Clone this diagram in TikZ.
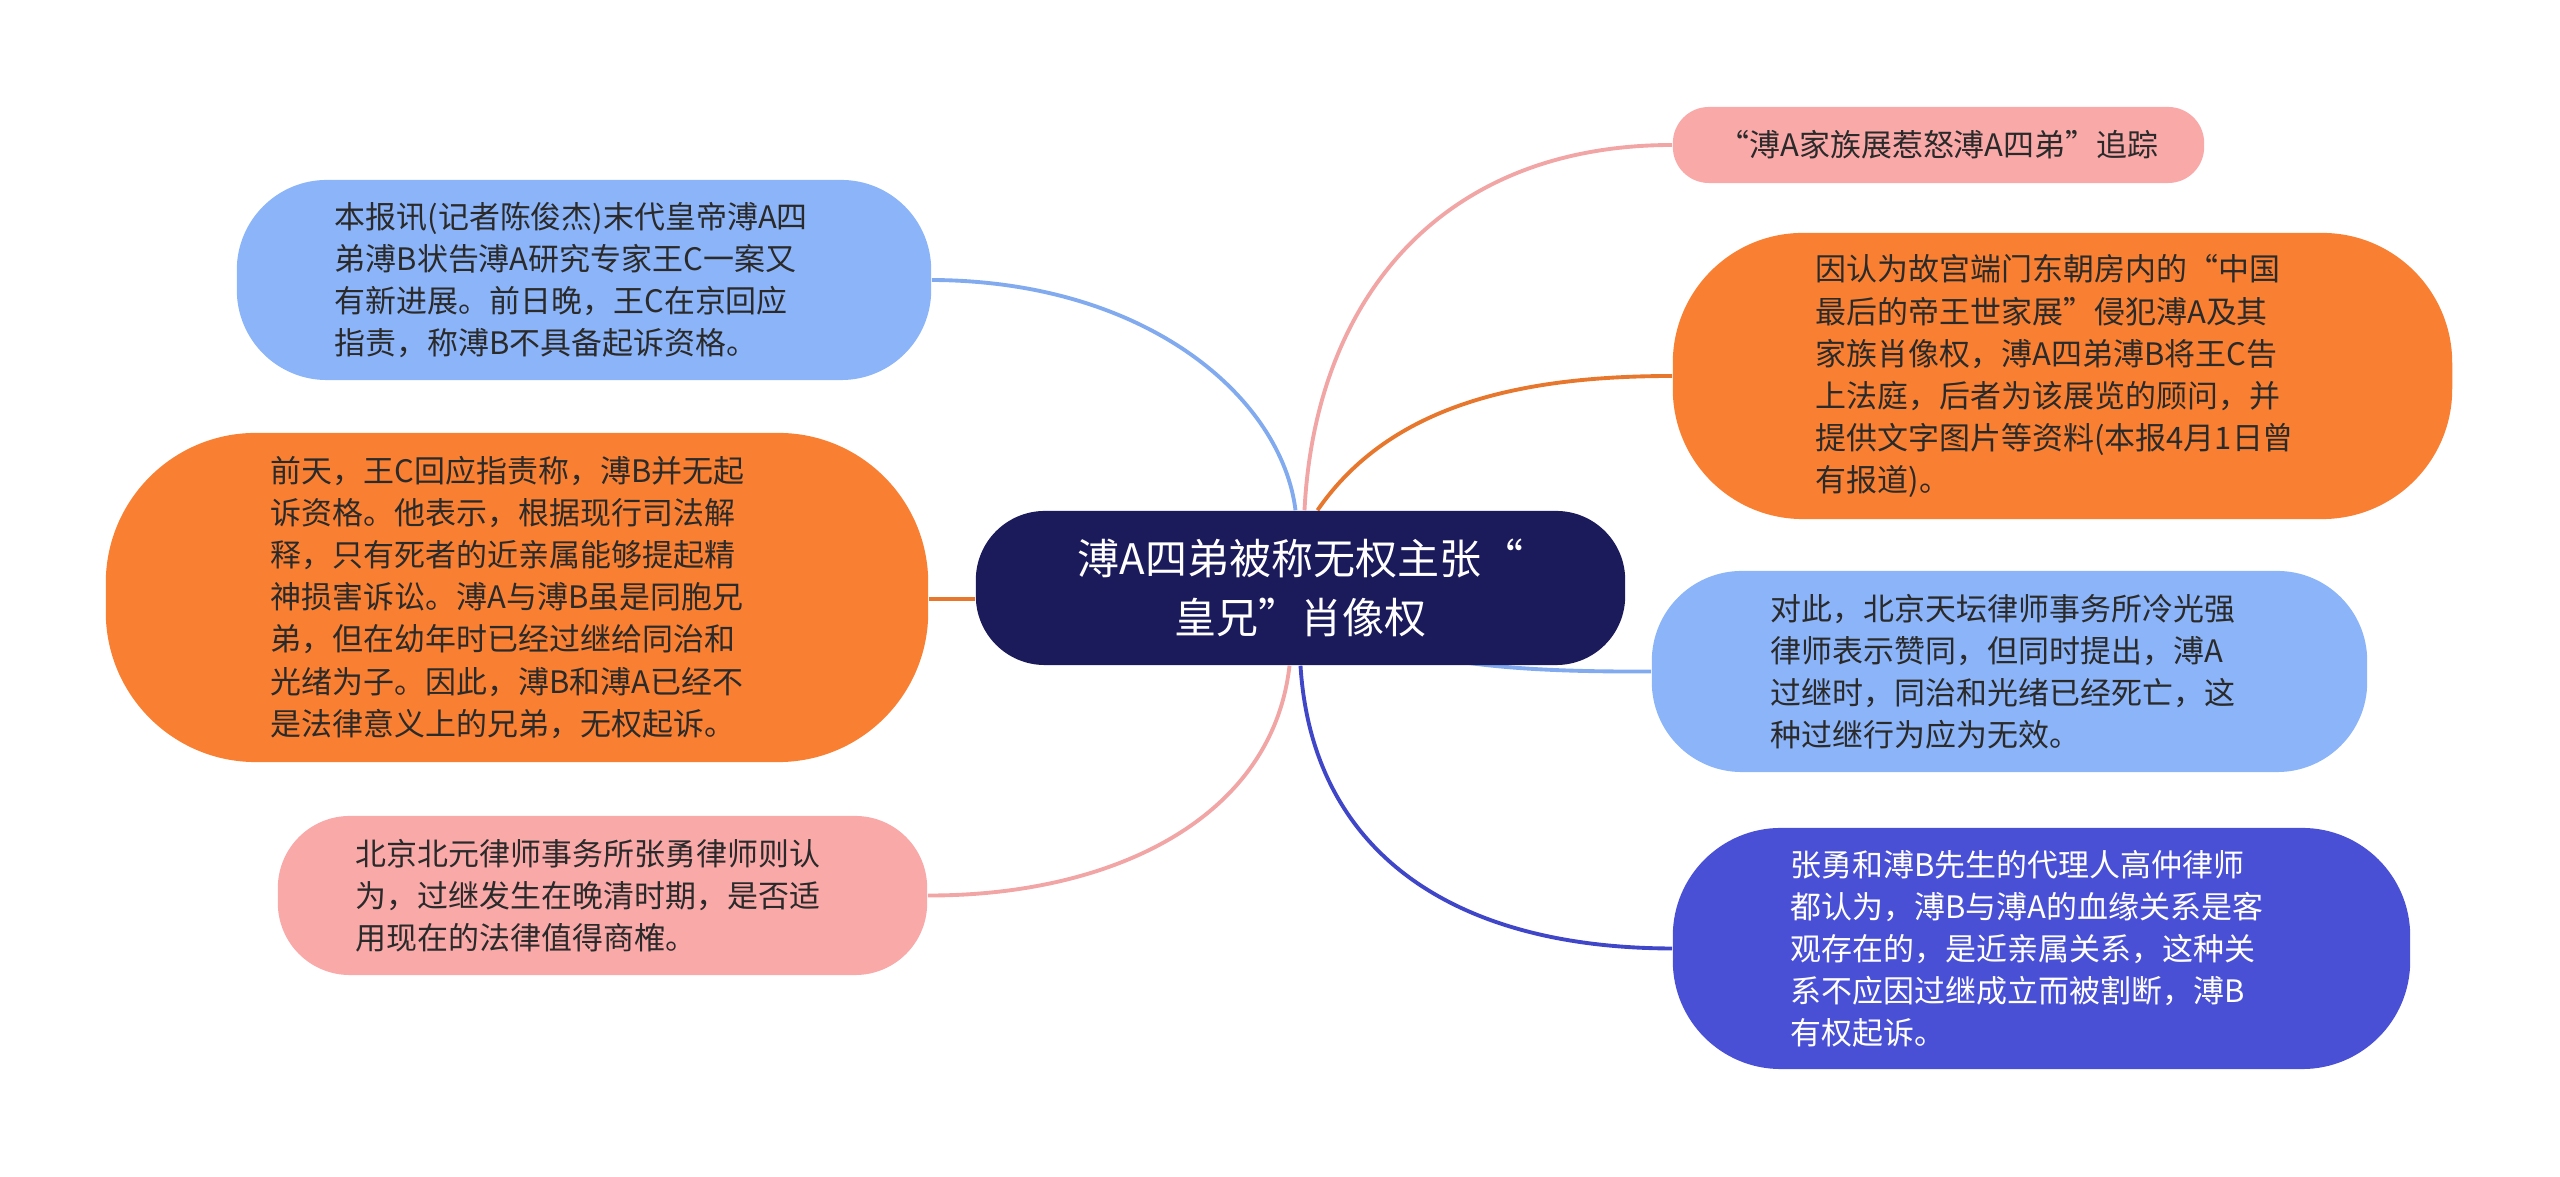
\documentclass[tikz,border=0pt]{standalone}
\usepackage{fontspec}
\setmainfont{Noto Sans CJK SC}
\usetikzlibrary{calc,backgrounds}
\definecolor{navy}{HTML}{1B1A5B}
\definecolor{lblue}{HTML}{8CB4F8}
\definecolor{orng}{HTML}{F98032}
\definecolor{pnk}{HTML}{FAA9A9}
\definecolor{indg}{HTML}{4A50D6}
\definecolor{txt}{HTML}{2A2A2A}
\definecolor{lorng}{HTML}{E8772E}
\definecolor{lpnk}{HTML}{F2A5A5}
\definecolor{lbl}{HTML}{82ABEF}
\definecolor{lind}{HTML}{4046C8}
\begin{document}
\begin{tikzpicture}[x=0.01cm,y=-0.01cm,
  box/.style={rectangle, align=left, inner ysep=0pt, text=txt,
    font=\fontsize{8.8pt}{11.95pt}\selectfont},
  link/.style={line width=1.1pt}]
\useasboundingbox (0,0) rectangle (2560,1177);

\node[rectangle, fill=navy, text=white, align=center, minimum width=6.49cm, minimum height=1.54cm,
  rounded corners=0.69cm, inner sep=0pt, font=\fontsize{11.95pt}{16.8pt}\selectfont]
  (ctr) at (1300.5,588) {溥A四弟被称无权主张“\\皇兄”肖像权};

\node[box, fill=lblue, text width=4.98cm, inner xsep=0.98cm, minimum height=2cm, rounded corners=0.9cm]
  (blueL) at (584,280) {本报讯(记者陈俊杰)末代皇帝溥A四\\弟溥B状告溥A研究专家王C一案又\\有新进展。前日晚，王C在京回应\\指责，称溥B不具备起诉资格。};

\node[box, fill=orng, text width=4.92cm, inner xsep=1.65cm, minimum height=3.29cm, rounded corners=1.5cm]
  (orangeL) at (517,597.5) {前天，王C回应指责称，溥B并无起\\诉资格。他表示，根据现行司法解\\释，只有死者的近亲属能够提起精\\神损害诉讼。溥A与溥B虽是同胞兄\\弟，但在幼年时已经过继给同治和\\光绪为子。因此，溥B和溥A已经不\\是法律意义上的兄弟，无权起诉。};

\node[box, fill=pnk, text width=4.93cm, inner xsep=0.78cm, minimum height=1.59cm, rounded corners=0.72cm]
  (pinkL) at (602.5,895.5) {北京北元律师事务所张勇律师则认\\为，过继发生在晚清时期，是否适\\用现在的法律值得商榷。};

\node[box, fill=pnk, align=center, minimum width=5.31cm, minimum height=0.76cm, inner xsep=0pt, rounded corners=0.36cm]
  (pinkR) at (1938.5,145) {“溥A家族展惹怒溥A四弟”追踪};

\node[box, fill=orng, text width=4.93cm, inner xsep=1.43cm, minimum height=2.86cm, rounded corners=1.3cm]
  (orangeR) at (2062.5,376) {因认为故宫端门东朝房内的“中国\\最后的帝王世家展”侵犯溥A及其\\家族肖像权，溥A四弟溥B将王C告\\上法庭，后者为该展览的顾问，并\\提供文字图片等资料(本报4月1日曾\\有报道)。};

\node[box, fill=lblue, text width=4.77cm, inner xsep=1.19cm, minimum height=2.01cm, rounded corners=0.9cm]
  (blueR) at (2009.5,671.5) {对此，北京天坛律师事务所冷光强\\律师表示赞同，但同时提出，溥A\\过继时，同治和光绪已经死亡，这\\种过继行为应为无效。};

\node[box, fill=indg, text=white, text width=5.01cm, inner xsep=1.18cm, minimum height=2.41cm, rounded corners=1.08cm]
  (indigoR) at (2041.5,948.5) {张勇和溥B先生的代理人高仲律师\\都认为，溥B与溥A的血缘关系是客\\观存在的，是近亲属关系，这种关\\系不应因过继成立而被割断，溥B\\有权起诉。};

\begin{scope}[on background layer]
\draw[link, lbl] (blueL.east) .. controls (1150,281) and (1282,400) .. ($(ctr.north)+(-5,0)$);
\draw[link, lorng] (orangeL.east |- 0,599) -- (ctr.west |- 0,599);
\draw[link, lpnk] (pinkL.east) .. controls (1110,896) and (1272,820) .. ($(ctr.south)+(-11,0)$);
\draw[link, lpnk] ($(ctr.north)+(4,0)$) .. controls (1315,300) and (1440,145) .. (pinkR.west);
\draw[link, lorng] ($(ctr.north)+(17,0)$) .. controls (1390,405) and (1520,376) .. (orangeR.west);
\draw[link, lbl] ($(ctr.center)+(80,55)$) .. controls (1450,668) and (1550,672) .. (blueR.west);
\draw[link, lind] (ctr.south) .. controls (1312,850) and (1450,948) .. (indigoR.west);
\end{scope}
\end{tikzpicture}
\end{document}
